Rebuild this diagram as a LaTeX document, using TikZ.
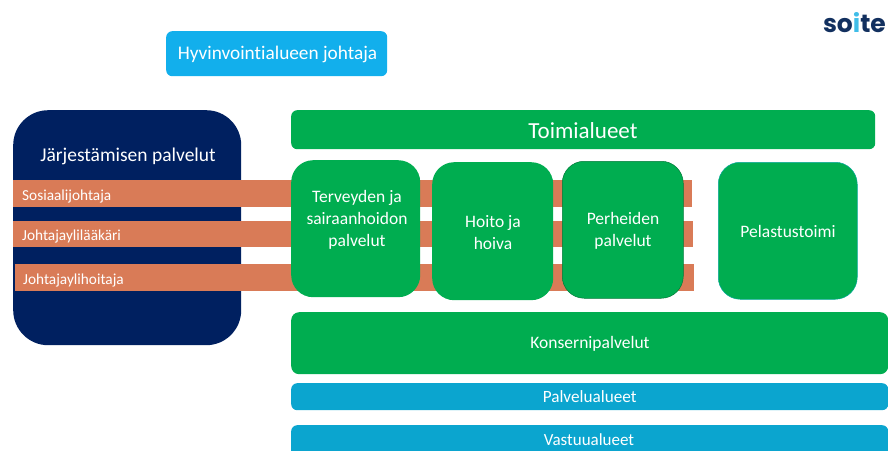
\documentclass[tikz,border=0pt]{standalone}
\usepackage{fontspec}
\setmainfont{Carlito}[Ligatures={NoCommon}]
\newfontfamily\logofont{Poppins}
\definecolor{navybg}{HTML}{002060}
\definecolor{barorange}{HTML}{D97B57}
\definecolor{boxgreen}{HTML}{00AD50}
\definecolor{boxblue}{HTML}{0BA5CF}
\definecolor{topblue}{HTML}{12AFEC}
\definecolor{logoblue}{HTML}{3FBDE8}
\definecolor{logonavy}{HTML}{12305F}
\tikzset{
  box/.style={rounded corners=#1,text=white,align=center,inner sep=0pt,anchor=north west},
  box/.default=22pt,
  bar/.style={fill=barorange,draw=none,inner sep=0pt,anchor=north west},
  barlabel/.style={text=white,font=\fontsize{15.3}{15.3}\selectfont,anchor=west,inner sep=0pt},
  boxtext/.style={font=\fontsize{17.5}{22}\selectfont},
  greenbox/.style={box=#1,fill=boxgreen},
  greenbox/.default=22pt,
  bluebox/.style={box=6pt,fill=boxblue,font=\fontsize{17.2}{17.2}\selectfont},
  lbl/.style={text=white,inner sep=0pt,align=center}
}
\begin{document}
\begin{tikzpicture}[x=1pt,y=-1pt]
\useasboundingbox (0,0) rectangle (888,450);
\clip (0,0) rectangle (888,450);
\node[box=6pt,fill=topblue,minimum width=221pt,minimum height=45pt] (top) at (166,31) {};
\node[lbl,font=\fontsize{19.3}{19.3}\selectfont] (topt) at (277.5,54.5) {Hyvinvointialueen johtaja};
\node[anchor=east,inner sep=0pt,font=\logofont\bfseries\fontsize{25}{25}\selectfont,text=logonavy] (logo) at (886,23) {so\textcolor{logoblue}{i}te};
\node[box=35pt,fill=navybg,minimum width=228pt,minimum height=235pt] (navy) at (13,110) {};
\node[lbl,font=\fontsize{19.5}{19.5}\selectfont] (navyt) at (128,156.5) {Järjestämisen palvelut};
\node[bar,minimum width=679pt,minimum height=27pt] (b1) at (13,180) {};
\node[bar,minimum width=680pt,minimum height=26pt] (b2) at (13,221) {};
\node[bar,minimum width=679pt,minimum height=27pt] (b3) at (15,263.5) {};
\node[barlabel] (b1t) at (22,196) {Sosiaalijohtaja};
\node[barlabel] (b2t) at (22,236) {Johtajaylilääkäri};
\node[barlabel] (b3t) at (23,280) {Johtajaylihoitaja};
\node[greenbox=6pt,minimum width=584pt,minimum height=39pt] (toimi) at (291,110) {};
\node[lbl,font=\fontsize{23}{23}\selectfont] (toimit) at (583,130.5) {Toimialueet};
\node[greenbox,minimum width=129pt,minimum height=137pt] (terv) at (291,160) {};
\node[lbl,boxtext] (tervt) at (357,220) {Terveyden ja\\sairaanhoidon\\palvelut};
\node[greenbox,minimum width=121pt,minimum height=138pt] (hoito) at (432,162) {};
\node[lbl,boxtext] (hoitot) at (493,233) {Hoito ja\\hoiva};
\node[greenbox,draw=black!30!boxgreen,line width=.5pt,minimum width=121pt,minimum height=137pt] (perh) at (562,161) {};
\node[lbl,boxtext] (perht) at (623,231) {Perheiden\\palvelut};
\node[greenbox,draw=boxblue!60!boxgreen,line width=.5pt,minimum width=139pt,minimum height=137pt] (pelas) at (718,162) {};
\node[lbl,boxtext] (pelast) at (788,231) {Pelastustoimi};
\node[greenbox=8pt,minimum width=597pt,minimum height=62pt] (kons) at (291,312) {};
\node[lbl,boxtext] (konst) at (590,344) {Konsernipalvelut};
\node[bluebox,minimum width=597pt,minimum height=27pt] (palv) at (291,383) {Palvelualueet};
\node[bluebox,minimum width=597pt,minimum height=36pt] (vast) at (291,425) {};
\node[lbl,font=\fontsize{17}{17}\selectfont] (vastt) at (589,440) {Vastuualueet};
\end{tikzpicture}
\end{document}
